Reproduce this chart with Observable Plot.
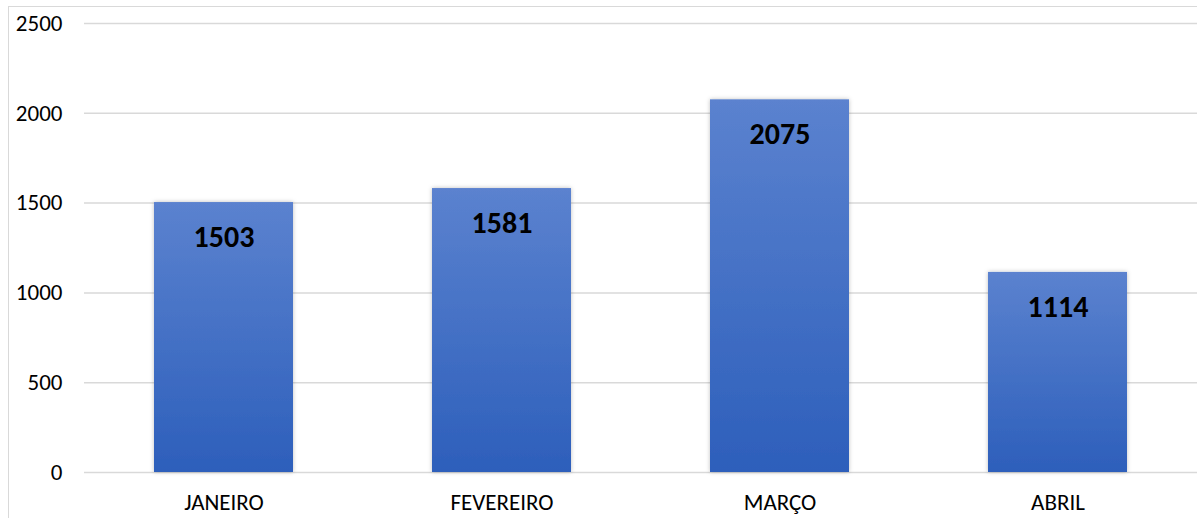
<!DOCTYPE html>
<html>
<head>
<meta charset="utf-8">
<script src="https://cdn.jsdelivr.net/npm/d3@7"></script>
<script src="https://cdn.jsdelivr.net/npm/@observablehq/plot@0.6"></script>
<style>
  html, body { margin: 0; padding: 0; background: #fff; }
  #wrap { position: relative; width: 1197px; height: 518px; overflow: hidden; }
  #frame { position: absolute; left: 8px; top: 6px; width: 1200px; height: 600px; border: 1.5px solid #d9d9d9; box-sizing: border-box; pointer-events: none; }
</style>
</head>
<body>
<div id="wrap"><div id="frame"></div><div id="chart"></div></div>
<script>
const months = ["JANEIRO", "FEVEREIRO", "MARÇO", "ABRIL"];
const values = [1503, 1581, 2075, 1114];
const yTicks = [0, 500, 1000, 1500, 2000, 2500];

const data = months.map((m, i) => ({month: m, value: values[i]}));

const defs = () => {
  const svg = d3.create("svg:defs");
  const g = svg.append("linearGradient").attr("id", "barGrad")
    .attr("x1", 0).attr("y1", 0).attr("x2", 0).attr("y2", 1);
  g.append("stop").attr("offset", "0%").attr("stop-color", "#5b82cf");
  g.append("stop").attr("offset", "100%").attr("stop-color", "#2d5fbb");
  const f = svg.append("filter").attr("id", "shadow").attr("x", "-10%").attr("y", "-10%").attr("width", "120%").attr("height", "120%");
  f.append("feDropShadow").attr("dx", 0).attr("dy", 0).attr("stdDeviation", 2).attr("flood-color", "#000").attr("flood-opacity", 0.25);
  return svg.node();
};

const font = "Carlito, Lato, 'Open Sans', sans-serif";

const chart = Plot.plot({
  width: 1197,
  height: 518,
  marginLeft: 84,
  marginRight: 0,
  marginTop: 23,
  marginBottom: 46,
  style: {fontFamily: font, background: "transparent", overflow: "visible", color: "#000"},
  x: {domain: months, paddingInner: 0.5, paddingOuter: 0.25, label: null, axis: null},
  y: {domain: [0, 2500], label: null, axis: null},
  marks: [
    defs,
    Plot.gridY(yTicks, {stroke: "#d9d9d9", strokeOpacity: 1, strokeWidth: 1.5}),
    Plot.axisY(yTicks, {tickSize: 0, tickPadding: 22, fontSize: 23, tickFormat: d => String(d), label: null, fill: "#000"}),
    Plot.axisX(months, {tickSize: 0, tickPadding: 21, fontSize: 23, label: null, fill: "#000"}),
    Plot.barY(data, {x: "month", y: "value", fill: "url(#barGrad)"}),
    Plot.text(data, {x: "month", y: "value", text: d => String(d.value), dy: 35, fontSize: 30, fontWeight: "bold", fill: "#000", fontFamily: font})
  ]
});

chart.querySelectorAll("g[aria-label='bar'] rect").forEach(r => r.setAttribute("filter", "url(#shadow)"));
document.getElementById("chart").appendChild(chart);
</script>
</body>
</html>
